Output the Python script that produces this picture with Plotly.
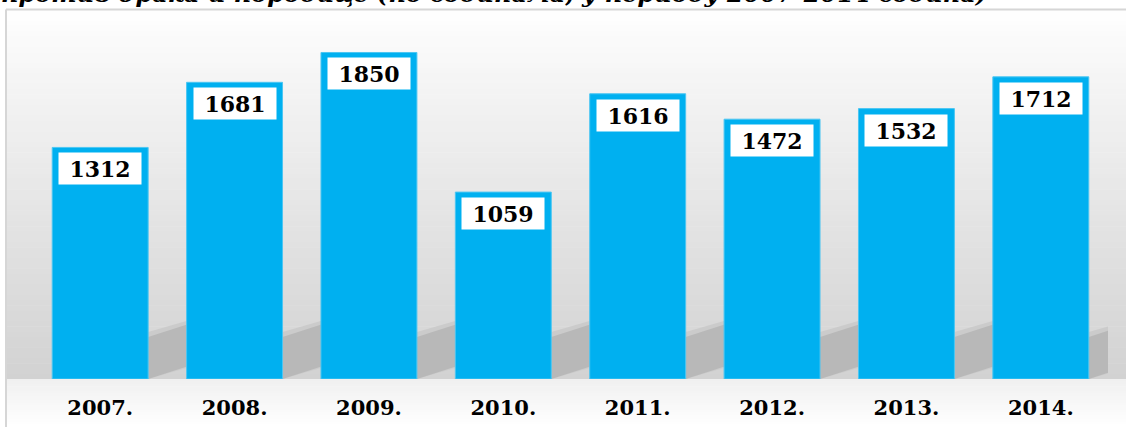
import plotly.graph_objects as go

# ---- data ----
categories = ["2007.", "2008.", "2009.", "2010.", "2011.", "2012.", "2013.", "2014."]
values = [1312, 1681, 1850, 1059, 1616, 1472, 1532, 1712]
title_text = "против брака и породице (по годинама, у периоду 2007-2014 година)"

W, H = 1126, 427
ML, MR, MT, MB = 33, 18, 26, 48
PW = W - ML - MR
PH = H - MT - MB
YMAX = 2000
BAR_COLOR = "#00B0F0"
SERIF = "DejaVu Serif"

def xp(px):
    return (px - ML) / PW

def yp(py):
    return (H - MB - py) / PH

n = len(categories)
xs = list(range(n))
cat_px = PW / n                # pixels per category
unit_px = PH / YMAX            # pixels per value unit

shapes = []
# background vertical gradient (decoration)
N = 70
top, bot = 10, H - MB
for k in range(N):
    a = top + (bot - top) * k / N
    b = top + (bot - top) * (k + 1) / N
    t = ((a + b) / 2 - top) / (bot - top)
    g = int(round(255 - 45 * t ** 0.9))
    shapes.append(dict(type="rect", xref="paper", yref="paper", x0=xp(7), x1=xp(W),
                       y0=yp(b + 0.5), y1=yp(a), fillcolor=f"rgb({g},{g},{g})",
                       line=dict(width=0), layer="below"))
N2 = 20
for k in range(N2):
    a = bot + (H - bot) * k / N2
    b = bot + (H - bot) * (k + 1) / N2
    t = ((a + b) / 2 - bot) / (H - bot)
    g = int(round(240 + 15 * t))
    shapes.append(dict(type="rect", xref="paper", yref="paper", x0=xp(7), x1=xp(W),
                       y0=yp(b + 0.5), y1=yp(a), fillcolor=f"rgb({g},{g},{g})",
                       line=dict(width=0), layer="below"))

# floor shadows behind each bar, derived from bar positions
half = 0.357
L = 42 / cat_px
rise = 13.5 / unit_px
h_sh = 42 / unit_px
for i in xs:
    xr = i + half
    for grow, col in ((5, "#cbcbcb"), (0, "#b8b8b8")):
        gy = grow / unit_px
        gx = grow / cat_px
        path = (f"M{xr},0 L{xr + L + gx},{rise} "
                f"L{xr + L + gx},{rise + h_sh + gy} L{xr},{h_sh + gy} Z")
        shapes.append(dict(type="path", xref="x", yref="y", path=path,
                           fillcolor=col, line=dict(width=0), layer="below"))

# frame lines
shapes.append(dict(type="line", xref="paper", yref="paper", x0=xp(6), x1=xp(W),
                   y0=yp(9.5), y1=yp(9.5), line=dict(color="#d6d6d6", width=2)))
shapes.append(dict(type="line", xref="paper", yref="paper", x0=xp(6), x1=xp(6),
                   y0=yp(9.5), y1=yp(H), line=dict(color="#d6d6d6", width=2)))

fig = go.Figure()
fig.add_trace(go.Bar(x=xs, y=values, marker=dict(color=BAR_COLOR,
                     line=dict(color="#4cc6f2", width=1)), hoverinfo="skip"))

annotations = []
for x, v in zip(xs, values):
    annotations.append(dict(x=x, y=v, xref="x", yref="y", text=str(v), showarrow=False,
                            yanchor="top", yshift=-5, bgcolor="white", width=78, height=27,
                            borderpad=2, font=dict(family=SERIF, size=22, color="black",
                                                   weight="bold")))
annotations.append(dict(x=xp(-1), y=yp(-7), xref="paper", yref="paper", text=title_text,
                        showarrow=False, xanchor="left", yanchor="middle",
                        font=dict(family=SERIF, size=24, color="black", weight="bold",
                                  style="italic")))

fig.update_layout(
    width=W, height=H,
    margin=dict(l=ML, r=MR, t=MT, b=MB, pad=0),
    paper_bgcolor="white", plot_bgcolor="rgba(0,0,0,0)",
    bargap=0.286, showlegend=False,
    shapes=shapes, annotations=annotations,
    xaxis=dict(range=[-0.5, n - 0.5], tickvals=xs, ticktext=categories,
               showgrid=False, zeroline=False, showline=False, ticks="",
               ticklabelstandoff=14, automargin=False,
               tickfont=dict(family=SERIF, size=21, color="black", weight="bold")),
    yaxis=dict(range=[0, YMAX], visible=False, showgrid=False, automargin=False),
)

fig.write_html("out.html", config={"displayModeBar": False},
               post_script="document.body.style.margin='0px';"
                           "document.documentElement.style.overflow='hidden';")
